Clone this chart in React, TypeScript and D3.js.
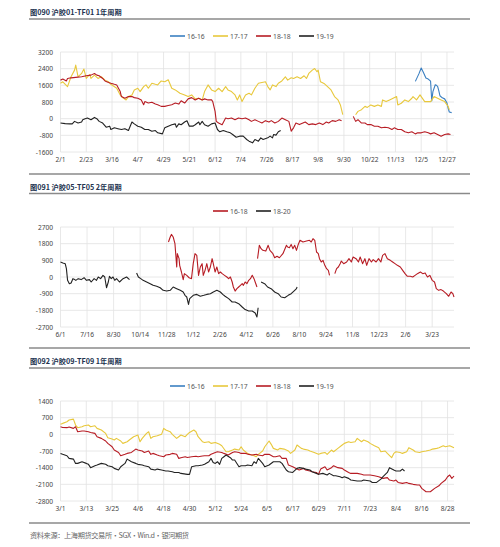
import React from "react";
import * as d3 from "d3";

type Pt = [number, number | null];

// ---------- Chart 1: 沪胶01-TF01 1年周期 (x = days from 2/1) ----------
const c1XLabels = ["2/1","2/23","3/16","4/7","4/29","5/21","6/12","7/4","7/26","8/17","9/8","9/30","10/22","11/13","12/5","12/27"];
const c1XStep = 22;
const c1XMax = 336;
const c1YTicks = [3200, 2400, 1600, 800, 0, -800, -1600];

const c1S1616: Pt[] = [[303,1790],[306,2150],[308,2430],[310,2200],[312,1950],[314,1900],[316,1800],[317,850],[318,1300],[320,1630],[321,1600],[322,1550],[323,1350],[324,1100],[326,1000],[328,950],[330,750],[331,500],[332,320],[334,290]];
const c1S1717: Pt[] = [[0,1700],[2,1770],[6,1540],[9,2010],[12,2330],[13,2570],[15,2010],[18,2170],[20,2380],[22,1930],[25,2120],[26,1930],[29,2090],[32,1930],[35,2010],[38,1850],[41,1770],[43,1650],[48,1460],[51,1140],[53,1010],[56,900],[58,1060],[61,1140],[63,1380],[66,1460],[68,1300],[71,1540],[73,1620],[75,1460],[78,1700],[81,1650],[83,1620],[86,1810],[89,1770],[92,1870],[95,1460],[98,1380],[102,1220],[106,1140],[109,1060],[112,1140],[115,950],[118,980],[121,900],[123,1300],[126,1620],[129,1380],[132,1300],[135,1460],[138,1300],[141,1540],[143,1380],[146,1300],[149,1140],[151,900],[153,1140],[155,820],[158,1140],[161,1220],[163,1140],[166,1460],[169,1700],[172,1740],[175,1770],[177,1540],[179,1380],[181,1620],[184,1540],[186,1700],[189,1810],[192,2010],[194,1850],[197,1960],[199,1930],[202,2010],[205,1930],[208,2060],[210,1930],[212,2170],[215,2330],[217,2410],[219,2250],[220,2330],[222,1770],[225,1690],[228,1540],[231,1380],[234,1060],[237,900],[239,660],[241,190],[246,null],[252,190],[254,350],[257,430],[260,590],[262,540],[265,660],[268,590],[271,660],[274,590],[275,900],[278,820],[281,900],[284,980],[287,1060],[288,660],[291,740],[294,900],[297,820],[300,980],[301,1060],[304,900],[307,1140],[308,1060],[311,820],[314,820],[316,820],[319,1060],[322,980],[325,900],[328,820],[331,590],[332,430]];
const c1S1818: Pt[] = [[0,1850],[2,1900],[5,1810],[6,1930],[9,1960],[13,1980],[18,2010],[22,2060],[26,2090],[29,2170],[31,2090],[33,2060],[36,1930],[38,1810],[41,1740],[43,1700],[46,1650],[48,1620],[51,1300],[52,1060],[55,980],[58,1060],[61,1060],[63,1010],[66,980],[69,900],[71,670],[72,820],[75,750],[78,790],[81,700],[83,670],[86,590],[89,590],[92,630],[95,670],[98,750],[101,700],[103,860],[106,750],[109,950],[112,1010],[115,900],[118,980],[121,900],[123,950],[126,900],[129,900],[130,820],[132,350],[133,-130],[135,-210],[138,-290],[141,30],[143,0],[146,30],[149,-50],[152,30],[155,0],[158,30],[161,-50],[163,-130],[166,-50],[169,-130],[172,-210],[175,-95],[178,-160],[180,-95],[183,-210],[186,-130],[189,30],[192,-50],[195,-130],[197,-600],[199,-440],[201,-210],[204,-285],[207,-210],[209,-160],[212,-285],[215,-250],[218,-285],[221,-210],[224,-285],[227,-160],[229,-210],[232,-95],[235,-130],[238,-50],[240,-95],[245,null],[250,110],[252,-130],[254,-50],[257,-210],[260,-210],[262,-285],[265,-285],[268,-365],[271,-365],[274,-440],[277,-410],[280,-440],[283,-520],[285,-440],[288,-520],[291,-520],[294,-630],[297,-680],[300,-630],[303,-730],[305,-680],[308,-680],[311,-630],[314,-680],[316,-730],[319,-680],[322,-760],[325,-840],[328,-760],[331,-730],[333,-760]];
const c1S1919: Pt[] = [[0,-210],[4,-240],[8,-250],[10,-250],[12,-130],[15,-210],[18,-160],[19,-50],[21,0],[23,30],[26,-50],[29,60],[31,0],[33,-130],[36,-210],[39,-410],[42,-360],[43,-520],[46,-440],[49,-480],[52,-520],[55,-480],[58,-570],[61,-160],[63,-250],[66,-360],[69,-410],[72,-520],[75,-520],[78,-600],[81,-570],[83,-680],[87,-730],[89,-440],[92,-360],[95,-290],[98,-250],[99,-410],[101,-250],[103,-290],[106,-160],[108,-100],[110,-360],[113,-360],[115,-290],[118,-160],[119,-290],[121,-130],[123,-290],[126,-360],[129,-250],[132,-210],[134,-520],[136,-630],[139,-570],[142,-630],[145,-680],[147,-760],[150,-890],[153,-840],[156,-840],[159,-1000],[161,-1080],[164,-1160],[166,-1000],[169,-1080],[171,-920],[173,-1000],[177,-920],[179,-840],[181,-920],[182,-760],[184,-790],[186,-630],[188,-570]];

// ---------- Chart 2: 沪胶05-TF05 2年周期 (x = days from 6/1) ----------
const c2XLabels = ["6/1","7/16","8/30","10/14","11/28","1/12","2/26","4/12","6/26","8/10","9/24","11/8","12/23","2/6","3/23"];
const c2XStep = 45;
const c2XMax = 667;
const c2YTicks = [2700, 1800, 900, 0, -900, -1800, -2700];

const c2S1618: Pt[] = [[183,1890],[186,2160],[188,2300],[191,2160],[194,1800],[197,540],[198,1260],[201,990],[202,630],[205,270],[208,-140],[210,180],[214,90],[218,-40],[222,-90],[225,720],[228,1260],[231,1170],[234,90],[237,540],[240,720],[242,90],[245,360],[248,720],[251,270],[254,540],[257,990],[259,720],[262,270],[265,540],[268,180],[271,270],[274,180],[278,90],[282,0],[285,-90],[288,0],[291,-270],[293,-540],[296,-760],[299,-630],[302,-540],[305,-450],[308,-360],[310,-450],[313,-270],[316,-360],[319,-180],[322,-90],[325,90],[328,-90],[330,-270],[333,-540],[333.5,null],[334,990],[337,1710],[340,1530],[343,1440],[348,1400],[352,1710],[355,1440],[360,1260],[363,1040],[367,1120],[371,1040],[377,1260],[383,1710],[385,1620],[388,1580],[391,1760],[394,1530],[397,1710],[400,1440],[403,1760],[406,1980],[411,1890],[417,1940],[422,1980],[425,1890],[428,2070],[431,1980],[434,1350],[437,1260],[439,990],[442,810],[445,900],[448,630],[451,450],[454,360],[456,90],[460,null],[465,180],[468,450],[471,540],[474,720],[476,860],[480,720],[485,810],[489,990],[493,810],[496,1080],[501,990],[505,810],[508,1080],[512,720],[516,990],[519,630],[523,990],[527,810],[530,940],[535,810],[539,990],[543,810],[546,1170],[550,1260],[554,990],[559,900],[563,810],[567,720],[571,630],[576,540],[580,360],[584,180],[588,40],[593,40],[597,0],[601,90],[605,180],[610,270],[614,180],[618,220],[622,0],[626,90],[630,-180],[634,-270],[637,-630],[641,-720],[645,-680],[649,-760],[654,-900],[658,-1040],[662,-810],[665,-900],[667,-1080]];
const c2S1820: Pt[] = [[0,810],[4,760],[8,720],[10,450],[12,-180],[15,-360],[18,-320],[21,-90],[24,-140],[26,-180],[30,-90],[35,-140],[40,-40],[44,-180],[49,-140],[52,-270],[57,-90],[61,-180],[64,0],[68,-90],[72,90],[75,0],[78,-580],[81,-270],[83,40],[86,-90],[89,0],[92,-180],[95,-90],[100,-270],[106,-90],[112,0],[117,-140],[123,null],[129,220],[132,0],[136,-90],[140,-180],[146,-270],[152,-360],[157,-450],[163,-500],[169,-580],[174,-720],[180,-760],[186,-720],[191,-540],[197,-630],[203,-720],[208,-810],[211,-990],[214,-1080],[217,-1480],[219,-1170],[225,-990],[231,-940],[237,-1040],[243,-990],[248,-940],[254,-900],[259,-810],[265,-720],[271,-810],[275,-940],[279,-1040],[285,-1170],[291,-1350],[296,-1350],[302,-1440],[308,-1620],[313,-1760],[319,-1840],[325,-1840],[330,-1940],[333,-2160],[335,-1660],[337,null],[340,-270],[346,-360],[351,-540],[357,-630],[363,-810],[369,-900],[374,-1080],[380,-1120],[386,-990],[391,-900],[397,-720],[400,-630],[401,-540]];

// ---------- Chart 3: 沪胶09-TF09 1年周期 (x = days from 3/1) ----------
const c3XLabels = ["3/1","3/13","3/25","4/6","4/18","4/30","5/12","5/24","6/5","6/17","6/29","7/11","7/23","8/4","8/16","8/28"];
const c3XStep = 12;
const c3XMax = 183;
const c3YTicks = [1400, 700, 0, -700, -1400, -2100, -2800];

const c3S1616: Pt[] = [];
const c3S1717: Pt[] = [[0,420],[1,460],[3,530],[4,600],[6,640],[7,390],[8,280],[10,320],[11,360],[13,390],[14,320],[16,360],[17,250],[19,180],[21,40],[22,-140],[24,-200],[25,-240],[26,-170],[28,-280],[29,-380],[31,-310],[32,-240],[34,-100],[36,-30],[37,-310],[38,-170],[40,40],[41,110],[42,-170],[43,-100],[45,-60],[46,-30],[47,0],[48,250],[49,180],[51,110],[52,0],[54,-170],[55,-100],[56,-30],[58,-100],[59,0],[60,80],[62,180],[63,110],[64,-100],[66,-310],[67,-340],[69,-310],[70,-380],[72,-340],[74,-420],[75,-480],[77,-730],[78,-730],[80,-660],[81,-620],[83,-660],[84,-520],[85,-660],[87,-800],[88,-840],[90,-900],[91,-940],[92,-840],[94,-700],[95,-520],[97,-280],[98,-420],[99,-590],[101,-660],[102,-590],[104,-620],[106,-700],[107,-800],[109,-660],[110,-450],[112,-590],[113,-620],[115,-660],[116,-700],[118,-760],[120,-840],[121,-800],[123,-760],[124,-840],[126,-660],[127,-730],[129,-590],[131,-450],[132,-380],[134,-310],[135,-340],[137,-310],[138,-170],[140,-310],[141,-240],[143,-310],[144,-380],[146,-480],[148,-560],[149,-730],[151,-700],[152,-800],[154,-980],[155,-800],[156,-730],[158,-760],[159,-800],[161,-730],[162,-560],[164,-660],[165,-730],[167,-760],[168,-730],[170,-700],[172,-660],[173,-620],[175,-590],[176,-560],[178,-480],[179,-520],[181,-480],[182,-520],[183,-560]];
const c3S1818: Pt[] = [[0,320],[1,290],[3,280],[4,310],[6,250],[7,320],[8,110],[10,140],[11,140],[13,110],[14,80],[16,40],[17,-100],[19,-170],[21,-280],[22,-380],[24,-520],[25,-660],[27,-760],[28,-900],[30,-840],[31,-800],[33,-760],[35,-620],[36,-660],[38,-700],[39,-760],[41,-700],[42,-840],[43,-800],[45,-870],[46,-900],[48,-940],[49,-870],[51,-840],[52,-800],[54,-840],[55,-1010],[56,-980],[58,-940],[59,-970],[61,-940],[63,-920],[64,-940],[66,-910],[67,-900],[69,-900],[70,-840],[72,-760],[73,-730],[75,-760],[76,-800],[78,-870],[80,-760],[81,-730],[83,-760],[84,-800],[86,-800],[87,-830],[89,-870],[91,-840],[92,-870],[94,-900],[95,-840],[97,-840],[99,-940],[100,-940],[102,-900],[103,-1010],[105,-1010],[106,-1290],[108,-1360],[110,-1460],[111,-1500],[113,-1430],[114,-1500],[116,-1540],[117,-1570],[119,-1600],[120,-1680],[121,-1460],[123,-1360],[124,-1500],[126,-1400],[127,-1320],[129,-1400],[131,-1430],[132,-1500],[134,-1600],[135,-1640],[138,-1640],[140,-1680],[141,-1710],[144,-1710],[146,-1740],[148,-1780],[150,-1850],[152,-1820],[153,-1920],[155,-1960],[156,-1920],[157,-2020],[159,-2060],[161,-2020],[162,-2060],[164,-2100],[166,-2130],[167,-2130],[168,-2270],[170,-2410],[171,-2410],[172,-2410],[174,-2270],[176,-2160],[177,-2060],[179,-1920],[180,-1780],[181,-1710],[182,-1850],[183,-1750]];
const c3S1919: Pt[] = [[0,-800],[1,-840],[3,-900],[4,-1010],[6,-1040],[7,-1220],[8,-1220],[10,-1150],[12,-1220],[13,-1260],[14,-1400],[16,-1320],[17,-1290],[19,-1220],[21,-1260],[22,-1320],[24,-1360],[25,-1430],[27,-1500],[28,-1360],[30,-1220],[31,-1040],[33,-1150],[35,-1220],[36,-1260],[38,-1290],[39,-1320],[41,-1360],[42,-1460],[44,-1500],[45,-1460],[47,-1500],[49,-1540],[50,-1540],[52,-1570],[53,-1600],[55,-1600],[56,-1640],[59,-1680],[60,-1680],[61,-1360],[63,-1320],[64,-1320],[66,-1290],[67,-1260],[69,-1150],[70,-1010],[71,-1180],[72,-1220],[73,-1150],[74,-1260],[75,-1010],[76,-940],[77,-870],[79,-980],[80,-1080],[81,-1080],[83,-1360],[84,-1320],[86,-1320],[87,-1290],[89,-1320],[90,-1150],[91,-1220],[92,-1010],[94,-1220],[95,-1360],[97,-1290],[99,-1150],[100,-1150],[102,-1150],[103,-1220],[105,-1500],[106,-1570],[108,-1600],[110,-1430],[111,-1400],[113,-1430],[114,-1460],[116,-1500],[117,-1570],[119,-1640],[120,-1680],[122,-1640],[124,-1710],[125,-1640],[127,-1740],[128,-1740],[130,-1780],[131,-1820],[132,-1780],[134,-1850],[135,-1920],[138,-1960],[140,-1960],[141,-1920],[144,-1960],[145,-2020],[147,-2020],[149,-1880],[150,-1780],[152,-1600],[153,-1400],[155,-1500],[156,-1540],[158,-1540],[159,-1460],[160,-1540]];

const titles = ["图090  沪胶01-TF01 1年周期", "图091  沪胶05-TF05 2年周期", "图092  沪胶09-TF09 1年周期"];
const footer = "资料来源：上海期货交易所・SGX・Win.d・银河期货";

const COLORS: Record<string, string> = {
  "16-16": "#3a7fc1",
  "17-17": "#e8c83c",
  "18-18": "#b71c24",
  "19-19": "#222222",
  "16-18": "#b71c24",
  "18-20": "#222222",
};

const FONT = "'Noto Sans', 'Noto Sans CJK SC', sans-serif";
const CJK = "'Noto Sans CJK SC', 'Noto Sans', sans-serif";

type Series = { name: string; data: Pt[] };
type ChartProps = {
  title: string;
  titleY: number;
  legendY: number;
  legendX: number[];
  plotTop: number;
  plotBottom: number;
  bottomLineY: number;
  xLabels: string[];
  xStep: number;
  xMax: number;
  yTicks: number[];
  series: Series[];
};

const PL = 60.5;
const PR = 454;
const SEP_L = 29;
const SEP_R = 470;

function Chart(p: ChartProps) {
  const x = d3.scaleLinear().domain([0, p.xMax]).range([PL, PR]);
  const yMax = d3.max(p.yTicks) as number;
  const yMin = d3.min(p.yTicks) as number;
  const y = d3.scaleLinear().domain([yMin, yMax]).range([p.plotBottom, p.plotTop]);
  const line = d3
    .line<Pt>()
    .defined((d) => d[1] != null)
    .x((d) => x(d[0]))
    .y((d) => y(d[1] as number));
  return (
    <g>
      <text x={30} y={p.titleY} dominantBaseline="central" fontFamily={CJK} fontWeight="bold" fontSize={7.2} fill="#22324f">
        {p.title}
      </text>
      <line x1={SEP_L} x2={SEP_R} y1={p.titleY + 7} y2={p.titleY + 7} stroke="#8a8a8a" strokeWidth={1.6} />
      {p.series.map((s, i) => (
        <g key={s.name}>
          <line x1={p.legendX[i]} x2={p.legendX[i] + 15} y1={p.legendY} y2={p.legendY} stroke={COLORS[s.name]} strokeWidth={1.6} />
          <text x={p.legendX[i] + 17} y={p.legendY} dominantBaseline="central" fontFamily={FONT} fontSize={6.8} fill="#555">
            {s.name}
          </text>
        </g>
      ))}
      {p.yTicks.map((t) => (
        <g key={"y" + t}>
          <line x1={PL} x2={PR} y1={y(t)} y2={y(t)} stroke="#e2e2e2" strokeWidth={0.8} />
          <text x={53} y={y(t)} textAnchor="end" dominantBaseline="central" fontFamily={FONT} fontSize={6.6} fill="#444">
            {t}
          </text>
        </g>
      ))}
      {p.xLabels.map((l, i) => (
        <g key={"x" + i}>
          <line x1={x(i * p.xStep)} x2={x(i * p.xStep)} y1={p.plotTop} y2={p.plotBottom} stroke="#e2e2e2" strokeWidth={0.8} />
          <text x={x(i * p.xStep)} y={p.plotBottom + 7.5} textAnchor="middle" dominantBaseline="central" fontFamily={FONT} fontSize={6.6} fill="#444">
            {l}
          </text>
        </g>
      ))}
      {p.series.map((s) => (
        <path key={"p" + s.name} d={line(s.data) || ""} fill="none" stroke={COLORS[s.name]} strokeWidth={1.1} strokeLinejoin="round" />
      ))}
      <line x1={SEP_L} x2={SEP_R} y1={p.bottomLineY} y2={p.bottomLineY} stroke="#8a8a8a" strokeWidth={1.6} />
    </g>
  );
}

export default function App() {
  const legend4 = [170, 213, 256, 299];
  const legend2 = [213, 256];
  return (
    <div style={{ position: "absolute", left: 0, top: 0, width: 500, height: 547, background: "#fff" }}>
      <svg width={500} height={547} viewBox="0 0 500 547">
        <rect width={500} height={547} fill="#fff" />
        <Chart
          title={titles[0]}
          titleY={12}
          legendY={36}
          legendX={legend4}
          plotTop={52}
          plotBottom={152}
          bottomLineY={174}
          xLabels={c1XLabels}
          xStep={c1XStep}
          xMax={c1XMax}
          yTicks={c1YTicks}
          series={[
            { name: "16-16", data: c1S1616 },
            { name: "17-17", data: c1S1717 },
            { name: "18-18", data: c1S1818 },
            { name: "19-19", data: c1S1919 },
          ]}
        />
        <Chart
          title={titles[1]}
          titleY={186.5}
          legendY={211}
          legendX={legend2}
          plotTop={227}
          plotBottom={327}
          bottomLineY={348}
          xLabels={c2XLabels}
          xStep={c2XStep}
          xMax={c2XMax}
          yTicks={c2YTicks}
          series={[
            { name: "16-18", data: c2S1618 },
            { name: "18-20", data: c2S1820 },
          ]}
        />
        <Chart
          title={titles[2]}
          titleY={361}
          legendY={386}
          legendX={legend4}
          plotTop={401}
          plotBottom={501}
          bottomLineY={523}
          xLabels={c3XLabels}
          xStep={c3XStep}
          xMax={c3XMax}
          yTicks={c3YTicks}
          series={[
            { name: "16-16", data: c3S1616 },
            { name: "17-17", data: c3S1717 },
            { name: "18-18", data: c3S1818 },
            { name: "19-19", data: c3S1919 },
          ]}
        />
        <text x={30} y={535} dominantBaseline="central" fontFamily={CJK} fontSize={7.2} fill="#666" textLength={159} lengthAdjust="spacing">
          {footer}
        </text>
      </svg>
    </div>
  );
}
